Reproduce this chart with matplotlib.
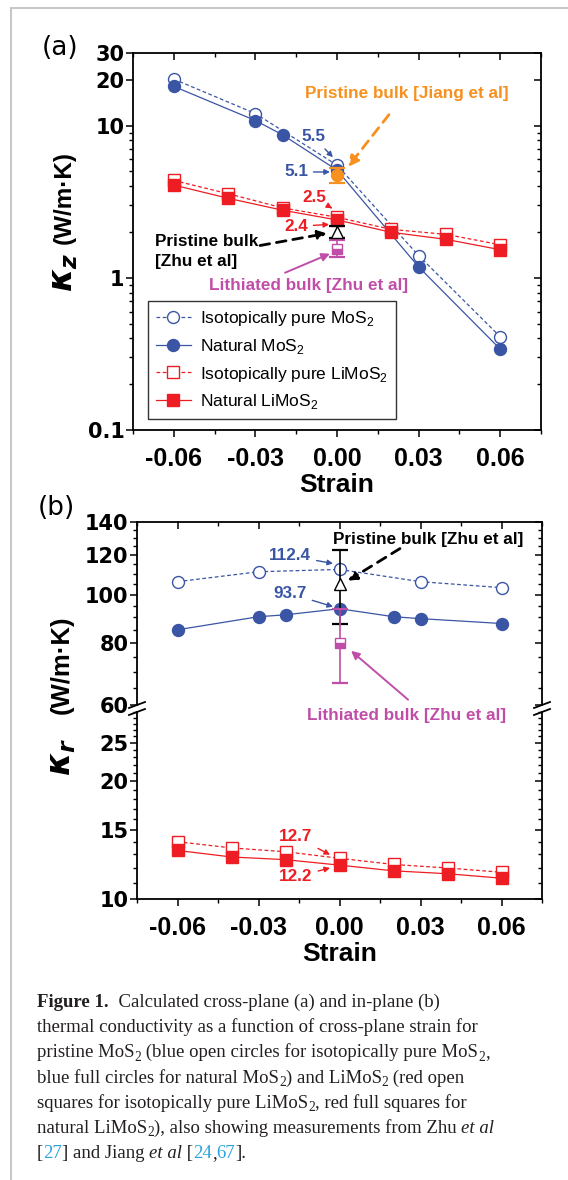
import matplotlib
matplotlib.use("Agg")
import matplotlib.pyplot as plt
from matplotlib import ticker
from matplotlib.lines import Line2D
from matplotlib.transforms import IdentityTransform

plt.rcParams["font.family"] = ["Liberation Sans", "DejaVu Sans"]
plt.rcParams["mathtext.fontset"] = "custom"
plt.rcParams["mathtext.rm"] = "Liberation Sans"
plt.rcParams["mathtext.it"] = "DejaVu Sans:italic:bold"
plt.rcParams["mathtext.bf"] = "Liberation Sans:bold"

# ── data ────────────────────────────────────────────────────────────────────
strain_pure = [-0.06, -0.03, 0.0, 0.03, 0.06]
strain_nat_z = [-0.06, -0.03, -0.02, 0.0, 0.03, 0.06]
strain_nat_r = [-0.06, -0.03, -0.02, 0.0, 0.02, 0.03, 0.06]
strain_li = [-0.06, -0.04, -0.02, 0.0, 0.02, 0.04, 0.06]
strain_ticks = [-0.06, -0.03, 0.0, 0.03, 0.06]
strain_labels = ["-0.06", "-0.03", "0.00", "0.03", "0.06"]

# (a) cross-plane kappa_z
kz_mos2_pure = [20.2, 12.0, 5.5, 1.40, 0.41]
kz_mos2_nat = [18.1, 10.8, 8.7, 5.1, 1.18, 0.34]
kz_li_pure = [4.36, 3.57, 2.88, 2.5, 2.08, 1.93, 1.65]
kz_li_nat = [4.07, 3.33, 2.78, 2.4, 1.99, 1.79, 1.53]

# (b) in-plane kappa_r
kr_mos2_pure = [106.2, 111.2, 112.4, 106.2, 103.3]
kr_mos2_nat = [85.0, 90.3, 91.1, 93.7, 90.3, 89.5, 87.5]
kr_li_pure = [14.0, 13.5, 13.2, 12.7, 12.25, 12.0, 11.7]
kr_li_nat = [13.3, 12.8, 12.6, 12.2, 11.8, 11.6, 11.3]

# measurements (all at zero strain)
exp_strain = [0.0]
jiang_kz, jiang_kz_err = [4.75], [[0.55], [0.52]]
zhu_kz, zhu_kz_err = [2.0], [[0.17], [0.2]]
zhu_li_kz, zhu_li_kz_err = [1.55], [[0.19], [0.21]]
zhu_kr, zhu_kr_err = [105.0], [[17.5], [18.2]]
zhu_li_kr, zhu_li_kr_err = [80.0], [[13.5], [13.7]]

BLUE = "#3a55a4"
RED = "#ee1d23"
ORANGE = "#f7901e"
MAGENTA = "#c04ea8"
W, H = 568, 1180

fig = plt.figure(figsize=(W / 100, H / 100), dpi=100)


def px_axes(x0, y0, x1, y1):
    return fig.add_axes([x0 / W, 1 - y1 / H, (x1 - x0) / W, (y1 - y0) / H])


def ytick_font(ax):
    for lab in ax.get_yticklabels():
        lab.set_fontfamily("DejaVu Sans")
        lab.set_fontweight("bold")
        lab.set_fontsize(15)


def style_axes(ax, yscale_ticks, ylabels, yminor, bottom=True, top=True):
    ax.set_yscale("log")
    ax.set_xlim(-0.075, 0.075)
    ax.xaxis.set_major_locator(ticker.FixedLocator(strain_ticks))
    ax.xaxis.set_minor_locator(ticker.MultipleLocator(0.015))
    ax.yaxis.set_major_locator(ticker.FixedLocator(yscale_ticks))
    ax.yaxis.set_major_formatter(ticker.FixedFormatter(ylabels))
    ax.yaxis.set_minor_locator(yminor)
    ax.yaxis.set_minor_formatter(ticker.NullFormatter())
    for sp in ax.spines.values():
        sp.set_linewidth(1.3)
    ax.tick_params(which="major", direction="out", length=5, width=1.1, pad=1)
    ax.tick_params(which="minor", direction="out", length=3, width=1.0)
    ax.tick_params(axis="x", pad=7)
    if bottom:
        ax.set_xticklabels(strain_labels, fontsize=18, fontweight="bold")
    else:
        ax.spines["bottom"].set_visible(False)
        ax.tick_params(axis="x", which="both", bottom=False, labelbottom=False)
    ax.spines["top"].set_visible(False)
    ax.spines["right"].set_visible(False)
    sec_r = ax.secondary_yaxis("right")
    sec_r.yaxis.set_major_locator(ticker.FixedLocator(yscale_ticks))
    sec_r.yaxis.set_minor_locator(yminor)
    sec_r.tick_params(which="both", direction="in", labelright=False)
    sec_r.tick_params(which="major", length=5, width=1.1)
    sec_r.tick_params(which="minor", length=3, width=1.0)
    sec_r.spines["right"].set_linewidth(1.3)
    if top:
        sec_t = ax.secondary_xaxis("top")
        sec_t.xaxis.set_major_locator(ticker.FixedLocator(strain_ticks))
        sec_t.xaxis.set_minor_locator(ticker.MultipleLocator(0.015))
        sec_t.tick_params(which="both", direction="in", labeltop=False)
        sec_t.tick_params(which="major", length=5, width=1.1)
        sec_t.tick_params(which="minor", length=3, width=1.0)
        sec_t.spines["top"].set_linewidth(1.3)
    ytick_font(ax)


def series(ax, x, y, open_, color, marker, ms, ls, label=None):
    ax.plot(x, y, ls=ls, lw=0.9, color=color, marker=marker, ms=ms,
            mfc="white" if open_ else color, mec=color, mew=1.0, label=label)


# ── panel (a) ───────────────────────────────────────────────────────────────
ax = px_axes(133, 53, 541, 430)
series(ax, strain_pure, kz_mos2_pure, True, BLUE, "o", 8.6, (0, (3, 2)), "Isotopically pure MoS$_2$")
series(ax, strain_nat_z, kz_mos2_nat, False, BLUE, "o", 8.6, "-", "Natural MoS$_2$")
series(ax, strain_li, kz_li_pure, True, RED, "s", 8, (0, (3, 2)), "Isotopically pure LiMoS$_2$")
series(ax, strain_li, kz_li_nat, False, RED, "s", 8, "-", "Natural LiMoS$_2$")
ax.errorbar(exp_strain, jiang_kz, yerr=jiang_kz_err, fmt="o", ms=8.6, color=ORANGE,
            capsize=5.5, capthick=1.6, elinewidth=1.2, zorder=5)
ax.errorbar(exp_strain, zhu_kz, yerr=zhu_kz_err, fmt="^", ms=8.5, color="black", mfc="white",
            capsize=5.5, capthick=1.6, elinewidth=1.2, zorder=5)
ax.errorbar(exp_strain, zhu_li_kz, yerr=zhu_li_kz_err, fmt="s", ms=6.5, color=MAGENTA,
            fillstyle="bottom", markerfacecoloralt="white", capsize=5.5, capthick=1.6,
            elinewidth=1.2, zorder=5)
ax.set_ylim(0.1, 30)
style_axes(ax, [0.1, 1, 10, 20, 30], ["0.1", "1", "10", "20", "30"],
           ticker.LogLocator(base=10, subs=range(2, 10)))
ax.set_xlabel("Strain", fontsize=19, fontweight="bold", labelpad=2)

small = dict(fontsize=12.3, fontweight="bold", ha="center", va="center")
arr = dict(arrowstyle="-|>", lw=1.0, mutation_scale=8, shrinkB=0)
ax.annotate("5.5", xy=(-0.0015, 6.2), xytext=(-0.0088, 8.46), color=BLUE,
            arrowprops=dict(color=BLUE, **arr), **small)
ax.annotate("5.1", xy=(-0.0026, 4.96), xytext=(-0.0151, 4.96), color=BLUE,
            arrowprops=dict(color=BLUE, **arr), **small)
ax.annotate("2.5", xy=(-0.0018, 2.86), xytext=(-0.0085, 3.39), color=RED,
            arrowprops=dict(color=RED, **arr), **small)
ax.annotate("2.4", xy=(-0.0029, 2.24), xytext=(-0.0151, 2.18), color=RED,
            arrowprops=dict(color=RED, **arr), **small)
ax.text(0.0257, 16.3, "Pristine bulk [Jiang et al]", color=ORANGE, **small)
ax.annotate("", xy=(0.0040, 5.35), xytext=(0.0191, 11.8),
            arrowprops=dict(arrowstyle="-|>", color=ORANGE, lw=2.0, ls=(0, (3.5, 2.5)),
                            mutation_scale=16, shrinkA=0, shrinkB=0))
ax.text(-0.0669, 1.49, "Pristine bulk\n[Zhu et al]", color="black", fontsize=12.3,
        fontweight="bold", ha="left", va="center", linespacing=1.45)
ax.annotate("", xy=(-0.0037, 1.96), xytext=(-0.0283, 1.63),
            arrowprops=dict(arrowstyle="-|>", color="black", lw=2.0, ls=(0, (3.5, 2.5)),
                            mutation_scale=13, shrinkA=0, shrinkB=0))
ax.text(-0.0105, 0.885, "Lithiated bulk [Zhu et al]", color=MAGENTA, **small)
ax.annotate("", xy=(-0.0026, 1.44), xytext=(-0.0191, 1.08),
            arrowprops=dict(arrowstyle="-|>", color=MAGENTA, lw=1.4, mutation_scale=12,
                            shrinkA=0, shrinkB=0))

leg = ax.legend(loc="lower left", bbox_to_anchor=(0.037, 0.029), fontsize=12.5,
                frameon=True, fancybox=False, edgecolor="black", handlelength=2.0,
                handletextpad=0.55, labelspacing=0.5, borderpad=0.45, borderaxespad=0,
                numpoints=1)
leg.get_frame().set_linewidth(1.0)

# ── panel (b) (broken log axis) ─────────────────────────────────────────────
axt = px_axes(137, 522, 542, 705)
axb = px_axes(137, 712, 542, 899)
for a in (axt, axb):
    series(a, strain_pure, kr_mos2_pure, True, BLUE, "o", 8.6, (0, (3, 2)))
    series(a, strain_nat_r, kr_mos2_nat, False, BLUE, "o", 8.6, "-")
    series(a, strain_li, kr_li_pure, True, RED, "s", 8, (0, (3, 2)))
    series(a, strain_li, kr_li_nat, False, RED, "s", 8, "-")
    a.errorbar(exp_strain, zhu_kr, yerr=zhu_kr_err, fmt="^", ms=8.5, color="black", mfc="white",
               capsize=5.5, capthick=1.6, elinewidth=1.2, zorder=5)
    a.errorbar(exp_strain, zhu_li_kr, yerr=zhu_li_kr_err, fmt="s", ms=6.5, color=MAGENTA,
               fillstyle="bottom", markerfacecoloralt="white", capsize=5.5, capthick=1.6,
               elinewidth=1.2, zorder=5)
axt.set_ylim(60, 140)
axb.set_ylim(10, 30)
style_axes(axt, [60, 80, 100, 120, 140], ["60", "80", "100", "120", "140"],
           ticker.FixedLocator(range(60, 141, 5)), bottom=False, top=True)
style_axes(axb, [10, 15, 20, 25], ["10", "15", "20", "25"],
           ticker.FixedLocator(range(10, 31)), bottom=True, top=False)
axb.set_xlabel("Strain", fontsize=19, fontweight="bold", labelpad=2)

axt.annotate("112.4", xy=(-0.0024, 115.5), xytext=(-0.0183, 119.8), color=BLUE,
             arrowprops=dict(color=BLUE, **arr), **small)
axt.annotate("93.7", xy=(-0.0024, 94.6), xytext=(-0.0183, 100.5), color=BLUE,
             arrowprops=dict(color=BLUE, **arr), **small)
axt.text(0.0328, 129.0, "Pristine bulk [Zhu et al]", color="black", **small)
axt.annotate("", xy=(0.0031, 106.7), xytext=(0.0224, 123.8),
             arrowprops=dict(arrowstyle="-|>", color="black", lw=2.0, ls=(0, (3.5, 2.5)),
                             mutation_scale=13, shrinkA=0, shrinkB=0))
axb.text(0.025, 29.4, "Lithiated bulk [Zhu et al]", color=MAGENTA, **small)
axt.annotate("", xy=(0.0043, 77.1), xytext=(0.0254, 61.5),
             arrowprops=dict(arrowstyle="-|>", color=MAGENTA, lw=1.4, mutation_scale=12,
                             shrinkA=0, shrinkB=0), annotation_clip=False)
axb.annotate("12.7", xy=(-0.0035, 12.97), xytext=(-0.0161, 14.4), color=RED,
             arrowprops=dict(color=RED, **arr), **small)
axb.annotate("12.2", xy=(-0.0035, 12.0), xytext=(-0.0161, 11.4), color=RED,
             arrowprops=dict(color=RED, **arr), **small)

# break marks on the in-plane axis
for xs in (137, 542):
    for yb in (705, 712):
        fig.add_artist(Line2D([(xs - 8) / W, (xs + 8) / W],
                              [1 - (yb + 3) / H, 1 - (yb - 3) / H],
                              color="black", lw=1.3))

# y labels and panel letters (pixel positions)
pix = IdentityTransform()
fig.text(64, H - 197, "(W/m·K)", transform=pix, rotation=90, fontsize=17.5,
         fontweight="bold", ha="center", va="center")
fig.text(64, H - 272, r"$\kappa_z$", transform=pix, rotation=90, fontsize=24,
         ha="center", va="center")
fig.text(62, H - 665, "(W/m·K)", transform=pix, rotation=90, fontsize=18.5,
         fontweight="bold", ha="center", va="center")
fig.text(62, H - 757, r"$\kappa_r$", transform=pix, rotation=90, fontsize=24,
         ha="center", va="center")
fig.text(60, H - 48, "(a)", transform=pix, fontsize=19, family="DejaVu Sans",
         ha="center", va="center")
fig.text(56, H - 508, "(b)", transform=pix, fontsize=19, family="DejaVu Sans",
         ha="center", va="center")

# page border
fig.add_artist(Line2D([11 / W, 11 / W], [0, 1 - 8 / H], color="#c8c8c8", lw=1.5))
fig.add_artist(Line2D([11 / W, 1], [1 - 8 / H, 1 - 8 / H], color="#c8c8c8", lw=1.5))

# ── caption ─────────────────────────────────────────────────────────────────
SERIF = "Liberation Serif"
CAP = 13.5
LINK = "#2aa4dc"
renderer = fig.canvas.get_renderer()


def piece_kw(style):
    kw = dict(fontsize=CAP, family=SERIF, color="#231f20")
    if style == "b":
        kw["fontweight"] = "bold"
    elif style == "i":
        kw["style"] = "italic"
    elif style == "sub":
        kw["fontsize"] = CAP * 0.72
    elif style == "link":
        kw["color"] = LINK
    return kw


def text_width(s, kw):
    t1 = fig.text(0, 0, s + "|", **kw)
    t2 = fig.text(0, 0, "|", **kw)
    w = t1.get_window_extent(renderer).width - t2.get_window_extent(renderer).width
    t1.remove()
    t2.remove()
    return w


def rich_line(x, y, parts):
    for s, style in parts:
        kw = piece_kw(style)
        dy = -3.5 if style == "sub" else 0
        fig.text(x, H - y + dy, s, transform=pix, va="baseline", **kw)
        x += text_width(s, kw)


caption = [
    [("Figure 1.", "b"), ("  Calculated cross-plane (a) and in-plane (b)", "")],
    [("thermal conductivity as a function of cross-plane strain for", "")],
    [("pristine MoS", ""), ("2", "sub"), (" (blue open circles for isotopically pure MoS", ""),
     ("2", "sub"), (",", "")],
    [("blue full circles for natural MoS", ""), ("2", "sub"), (") and LiMoS", ""), ("2", "sub"),
     (" (red open", "")],
    [("squares for isotopically pure LiMoS", ""), ("2", "sub"), (", red full squares for", "")],
    [("natural LiMoS", ""), ("2", "sub"), ("), also showing measurements from Zhu ", ""),
     ("et al", "i")],
    [("[", ""), ("27", "link"), ("] and Jiang ", ""), ("et al", "i"), (" [", ""), ("24", "link"),
     (",", ""), ("67", "link"), ("].", "")],
]
for i, line in enumerate(caption):
    rich_line(37, 1007 + i * 25.2, line)

fig.savefig("out.png", dpi=100)
